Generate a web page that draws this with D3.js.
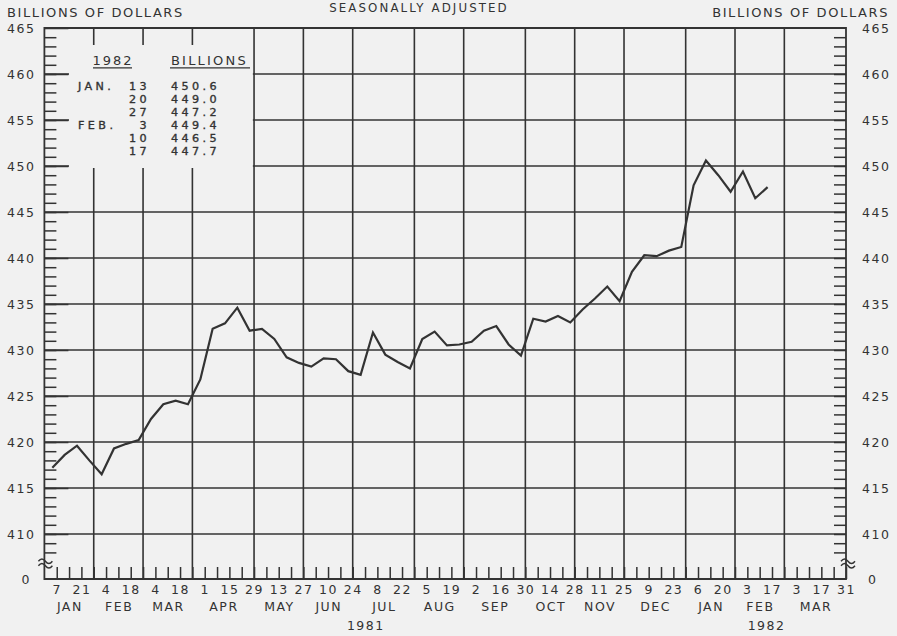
<!DOCTYPE html>
<html><head><meta charset="utf-8">
<script src="https://cdn.jsdelivr.net/npm/d3@7/dist/d3.min.js"></script>
<style>
html,body{margin:0;padding:0;background:#f1f1f1;}
svg{display:block;}
</style></head><body>
<svg id="chart" width="897" height="636"></svg>
<script>
// ---------------- data ----------------
const firstWeek = "1981-01-07";   // Wednesday of the first observation
const moneyValues = [417.2, 418.6, 419.6, 418.0, 416.5, 419.3, 419.8, 420.2, 422.5, 424.1,
  424.5, 424.1, 426.8, 432.3, 432.9, 434.6, 432.1, 432.3, 431.2, 429.2,
  428.6, 428.2, 429.1, 429.0, 427.7, 427.3, 431.9, 429.5, 428.7, 428.0,
  431.2, 432.0, 430.5, 430.6, 430.9, 432.1, 432.6, 430.6, 429.4, 433.4,
  433.1, 433.7, 433.0, 434.4, 435.6, 436.9, 435.3, 438.5, 440.3, 440.2,
  440.8, 441.2, 447.9, 450.6, 449.0, 447.2, 449.4, 446.5, 447.7];
const monthLabels = ["JAN","FEB","MAR","APR","MAY","JUN","JUL","AUG","SEP","OCT","NOV","DEC","JAN","FEB","MAR"];
const yearLabels = ["1981","1982"];
const yTickValues = [410,415,420,425,430,435,440,445,450,455,460,465];
const yMinorValues = d3.range(408,465);
const titleLeft = "BILLIONS OF DOLLARS";
const titleCenter = "SEASONALLY ADJUSTED";
const insetHeader = ["1982","BILLIONS"];
const insetMonths = ["JAN.","","","FEB.","",""];
const insetDays = ["13","20","27","3","10","17"];
const insetValues = ["450.6","449.0","447.2","449.4","446.5","447.7"];

// ---------------- layout ----------------
const W = 897, H = 636;
const x0 = 44.4, x1 = 846, yTop = 28, yBottom = 534, yBase = 579;
const ink = "#333", bg = "#f1f1f1";
const FONT = "'DejaVu Sans', sans-serif";
const plotShiftHours = -60;

const svg = d3.select("#chart");
svg.append("rect").attr("width",W).attr("height",H).attr("fill",bg);

const parse = d3.timeParse("%Y-%m-%d");
const start = parse(firstWeek);
const domStart = d3.timeWednesday.floor(new Date(1980,11,31));
const domEnd = d3.timeWednesday.floor(new Date(1982,2,31));
const x = d3.scaleTime().domain([domStart, domEnd]).range([x0, x1]);
const y = d3.scaleLinear().domain([410,465]).range([yBottom, yTop]);

// month ends = last Wednesday of each month
const monthEnds = [domStart].concat(monthLabels.map((m,i)=> d3.timeWednesday.floor(new Date(1981, i+1, 0))));
const weekDates = d3.timeWednesday.range(start, d3.timeDay.offset(domEnd,1));

const grid = svg.append("g").attr("stroke", ink).attr("fill","none");
grid.selectAll("line.h").data(yTickValues.filter(v=>v<465)).join("line")
  .attr("x1",x0).attr("x2",x1).attr("y1",d=>y(d)).attr("y2",d=>y(d)).attr("stroke-width",1.6);
grid.selectAll("line.v").data(monthEnds.slice(1,-1)).join("line")
  .attr("x1",d=>x(d)).attr("x2",d=>x(d)).attr("y1",yTop).attr("y2",yBase).attr("stroke-width",1.6);

// inset blank region
svg.append("rect").attr("x",69).attr("y",45).attr("width",x(monthEnds[4])-69-1.2).attr("height",123).attr("fill",bg);

// frame
svg.append("path").attr("d",`M${x0},${yBase}V${yTop}H${x1}V${yBase}Z`)
  .attr("fill","none").attr("stroke",ink).attr("stroke-width",1.8);

function styleAxis(g, size){
  g.select(".domain").remove();
  g.selectAll("line").attr("stroke",ink).attr("stroke-width",1.5);
  g.selectAll("text").attr("fill",ink).attr("font-family",FONT).attr("font-size",size).attr("letter-spacing","1.5px");
}

// left axis
const gl1 = svg.append("g").attr("transform",`translate(${x0},0)`)
  .call(d3.axisLeft(y).tickValues(yMinorValues).tickSize(-12).tickFormat(""));
styleAxis(gl1);
const gl2 = svg.append("g").attr("transform",`translate(${x0},0)`)
  .call(d3.axisLeft(y).tickValues(yTickValues).tickSize(-24).tickPadding(9).tickFormat(d3.format("d")));
styleAxis(gl2, 12.5);
gl2.selectAll("text").attr("dy","0.36em");
// right axis
const gr1 = svg.append("g").attr("transform",`translate(${x1},0)`)
  .call(d3.axisRight(y).tickValues(yMinorValues).tickSize(-12).tickFormat(""));
styleAxis(gr1);
const gr2 = svg.append("g").attr("transform",`translate(${x1},0)`)
  .call(d3.axisRight(y).tickValues(yTickValues).tickSize(0).tickPadding(16).tickFormat(d3.format("d")));
styleAxis(gr2, 12.5);
gr2.selectAll("text").attr("dy","0.36em");

// zero labels and break marks
const txt = (sel)=>sel.attr("fill",ink).attr("font-family",FONT);
txt(svg.append("text").attr("x",31).attr("y",yBase).attr("dy","0.36em").attr("text-anchor","end")
  .attr("font-size",12.5).attr("letter-spacing","1.5px").text("0"));
txt(svg.append("text").attr("x",868).attr("y",yBase).attr("dy","0.36em").attr("text-anchor","start")
  .attr("font-size",12.5).attr("letter-spacing","1.5px").text("0"));
[x0+1, x1+2].forEach(cx=>{
  [-2.2, 2.2].forEach(dy=>{
    svg.append("path").attr("d",`M${cx-7},${562.5+dy+1} q3.5,-4.5 7,0 t7,0`)
      .attr("fill","none").attr("stroke",ink).attr("stroke-width",1.4);
  });
});

// bottom axis: weekly ticks and fortnightly labels
const gb1 = svg.append("g").attr("transform",`translate(0,${yBase})`)
  .call(d3.axisBottom(x).tickValues(weekDates).tickSize(-12).tickFormat(""));
styleAxis(gb1);
const gb2 = svg.append("g").attr("transform",`translate(0,${yBase})`)
  .call(d3.axisBottom(x).tickValues(weekDates.filter((d,i)=>i%2===0)).tickSize(0).tickPadding(6.6).tickFormat(d3.timeFormat("%-d")));
styleAxis(gb2, 12.5);

// month labels
svg.append("g").selectAll("text").data(monthLabels).join("text")
  .attr("x",(d,i)=>(x(monthEnds[i])+x(monthEnds[i+1]))/2 + 0.75)
  .attr("y",611).attr("text-anchor","middle").attr("font-size",12.5).attr("letter-spacing","1.5px")
  .attr("fill",ink).attr("font-family",FONT).text(d=>d);
// year labels
const yearSpans = [[monthEnds[0], monthEnds[12]], [monthEnds[12], monthEnds[15]]];
svg.append("g").selectAll("text").data(yearLabels).join("text")
  .attr("x",(d,i)=>(x(yearSpans[i][0])+x(yearSpans[i][1]))/2 + 0.75)
  .attr("y",629.5).attr("text-anchor","middle").attr("font-size",12.5).attr("letter-spacing","1.5px")
  .attr("fill",ink).attr("font-family",FONT).text(d=>d);

// titles
txt(svg.append("text").attr("x",7).attr("y",17).attr("font-size",13).attr("letter-spacing","1.6px").text(titleLeft));
txt(svg.append("text").attr("x",889).attr("y",17).attr("text-anchor","end").attr("font-size",13).attr("letter-spacing","1.6px").text(titleLeft));
txt(svg.append("text").attr("x",419).attr("y",11.8).attr("text-anchor","middle").attr("font-size",11.8).attr("letter-spacing","2.1px").text(titleCenter));

// inset table
const inset = svg.append("g").attr("font-family",FONT).attr("fill",ink);
inset.append("text").attr("x",113).attr("y",64.5).attr("text-anchor","middle").attr("font-size",13).attr("letter-spacing","2px").text(insetHeader[0]);
inset.append("text").attr("x",171).attr("y",64.5).attr("font-size",13).attr("letter-spacing","2.2px").text(insetHeader[1]);
inset.append("line").attr("x1",93).attr("x2",132).attr("y1",67.8).attr("y2",67.8).attr("stroke",ink).attr("stroke-width",1.3);
inset.append("line").attr("x1",170).attr("x2",250).attr("y1",67.8).attr("y2",67.8).attr("stroke",ink).attr("stroke-width",1.3);
const rowY = i => 90 + 13.05*i;
const rows = inset.append("g").attr("font-size",11.2).attr("letter-spacing","3.4px")
  .attr("stroke",ink).attr("stroke-width",0.35);
rows.selectAll("text.m").data(insetMonths).join("text").attr("class","m").attr("x",78).attr("y",(d,i)=>rowY(i)).text(d=>d);
rows.selectAll("text.d").data(insetDays).join("text").attr("class","d").attr("x",150).attr("y",(d,i)=>rowY(i)).attr("text-anchor","end").text(d=>d);
rows.selectAll("text.v").data(insetValues).join("text").attr("class","v").attr("x",171).attr("y",(d,i)=>rowY(i)).text(d=>d);

// data line
const series = moneyValues.map((v,i)=>({date: d3.timeDay.offset(start, 7*i), value: v}));
const line = d3.line()
  .x(d=>x(d3.timeHour.offset(d.date, plotShiftHours)))
  .y(d=>y(d.value));
svg.append("path").datum(series).attr("d",line)
  .attr("fill","none").attr("stroke",ink).attr("stroke-width",2.2).attr("stroke-linejoin","miter");
</script>
</body></html>
